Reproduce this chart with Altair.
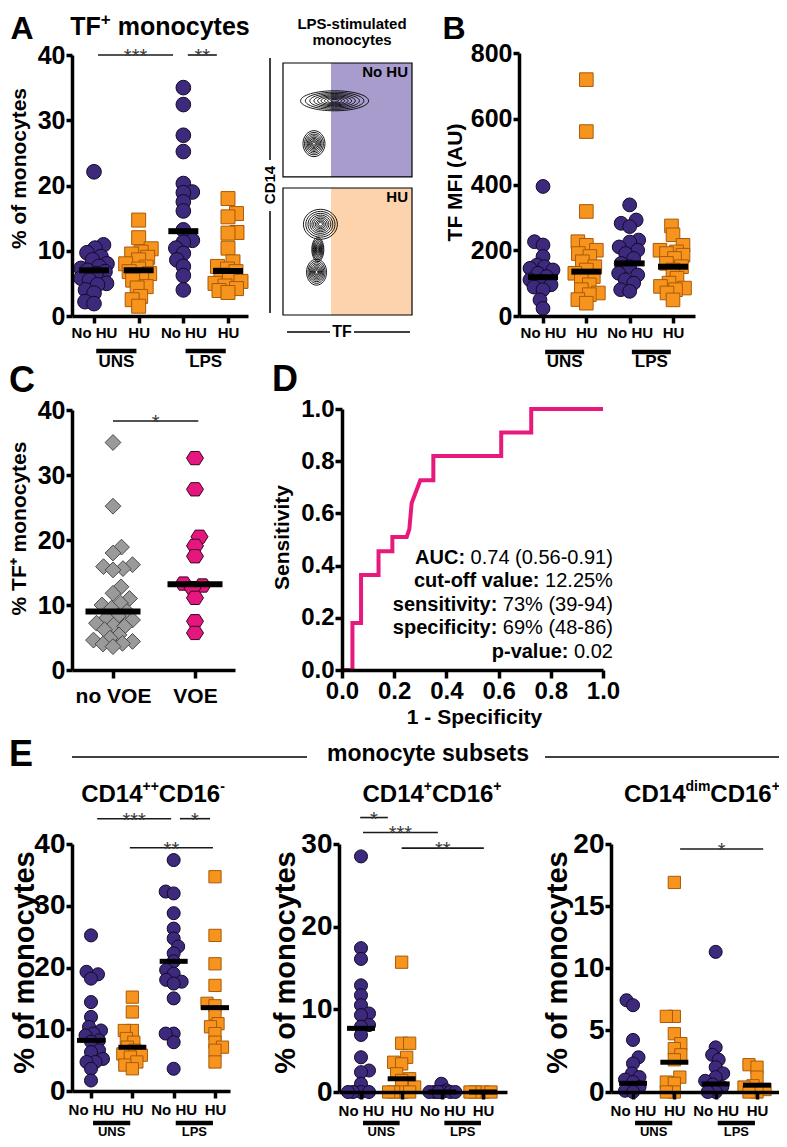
import altair as alt
import pandas as pd

W, H = 771, 1131
M = 8


def P(v):
    return v - M


FONT = "Liberation Sans"

# ---------------- values ----------------
GROUP_LABELS = ["No HU", "HU", "No HU", "HU"]
STIM_LABELS = ["UNS", "LPS"]
VOE_LABELS = ["no VOE", "VOE"]

# A: TF+ monocytes (% of monocytes)
a_uns_nohu = [22.1, 10.9, 10.4, 9.7, 9.1, 8.6, 8.0, 7.6, 7.3, 7.0, 6.8, 6.5, 5.8, 5.5, 5.0, 4.8, 4.0, 3.5, 2.2, 1.9]
a_uns_hu = [14.7, 12.0, 10.3, 9.8, 9.5, 9.0, 8.6, 8.0, 7.5, 7.2, 6.8, 6.5, 5.8, 5.5, 4.5, 4.3, 3.0, 2.5, 1.5]
a_lps_nohu = [35.0, 32.4, 27.7, 25.2, 20.3, 19.0, 18.9, 17.5, 16.1, 13.2, 11.6, 11.3, 10.4, 9.6, 8.6, 7.6, 6.2, 4.0]
a_lps_hu = [18.0, 15.7, 15.2, 12.8, 12.7, 10.4, 8.3, 7.6, 7.2, 6.8, 6.3, 5.8, 5.3, 5.0, 4.6, 4.2, 3.9, 3.6]
a_medians = [7.0, 7.0, 13.0, 6.9]
a_sig = [(0.09, 1.77, 40.0, "***"), (2.1, 2.75, 40.0, "**")]

# B: TF MFI (AU)
b_uns_nohu = [394, 226, 216, 181, 155, 150, 145, 140, 130, 120, 110, 100, 95, 88, 80, 49, 23]
b_uns_hu = [719, 561, 318, 226, 215, 200, 190, 181, 165, 150, 140, 130, 120, 110, 95, 80, 70, 65, 50, 39]
b_lps_nohu = [338, 292, 282, 272, 231, 225, 210, 200, 190, 175, 160, 150, 130, 125, 110, 100, 80, 75]
b_lps_hu = [274, 247, 215, 200, 195, 190, 185, 175, 160, 150, 140, 115, 100, 90, 85, 80, 70, 49]
b_medians = [118, 135, 160, 150]

# C: % TF+ monocytes by VOE
c_novoe = [35.0, 25.2, 18.9, 18.0, 16.2, 15.9, 15.6, 15.4, 12.8, 11.8, 11.0, 10.3, 10.0, 9.5, 9.0,
           8.3, 8.0, 7.7, 7.2, 6.9, 6.7, 6.2, 5.4, 4.9, 4.6, 4.4, 4.1, 4.0, 3.6]
c_voe = [32.6, 27.8, 20.5, 19.1, 17.5, 13.3, 13.0, 12.6, 11.1, 7.5, 5.7]
c_medians = [9.0, 13.2]
c_sig = [(0.0, 1.04, 38.3, "*")]

# D: ROC curve
roc_fpr = [0.0, 0.04, 0.04, 0.073, 0.073, 0.14, 0.14, 0.193, 0.193, 0.248, 0.258, 0.267, 0.30, 0.35, 0.35,
           0.61, 0.61, 0.725, 0.725, 1.0]
roc_tpr = [0.0, 0.0, 0.18, 0.18, 0.364, 0.364, 0.455, 0.455, 0.51, 0.51, 0.54, 0.64, 0.727, 0.727, 0.82,
           0.82, 0.91, 0.91, 1.0, 1.0]
d_labels = ["AUC:", "cut-off value:", "sensitivity:", "specificity:", "p-value:"]
d_values = ["0.74 (0.56-0.91)", "12.25%", "73% (39-94)", "69% (48-86)", "0.02"]
d_text_y = [0.43, 0.34, 0.25, 0.16, 0.068]

# E: monocyte subsets
e1_uns_nohu = [25.2, 19.3, 18.9, 18.2, 14.4, 12.0, 10.4, 9.8, 9.3, 9.0, 8.2, 8.0, 6.6, 6.3, 5.2, 4.7, 4.7, 3.6, 1.7]
e1_uns_hu = [15.2, 12.8, 9.8, 9.8, 8.5, 7.9, 7.1, 6.6, 6.0, 5.8, 5.5, 4.7, 4.2, 3.6]
e1_lps_nohu = [37.4, 32.3, 32.0, 28.8, 26.3, 24.7, 23.4, 22.3, 21.0, 19.6, 19.0, 18.0, 17.7, 17.4, 15.0, 9.3, 9.3, 7.9, 3.6]
e1_lps_hu = [34.7, 25.2, 20.6, 17.1, 14.2, 13.8, 12.5, 10.9, 10.4, 9.3, 7.9, 7.1, 6.6, 4.7]
e1_medians = [8.2, 7.1, 21.0, 13.5]
e1_sig = [(0.15, 1.94, 44.1, "***"), (2.15, 2.88, 44.1, "*"), (0.94, 2.95, 39.4, "**")]

e2_uns_nohu = [28.5, 17.4, 16.1, 12.9, 11.7, 10.5, 9.5, 9.3, 8.1, 7.9, 6.9, 4.2, 2.6, 2.4, 1.0, 0, 0, 0, 0]
e2_uns_hu = [15.7, 5.9, 5.9, 4.2, 3.6, 3.4, 2.2, 1.6, 1.4, 0.6, 0, 0, 0, 0]
e2_lps_nohu = [1.0, 0.2, 0, 0, 0, 0, 0, 0]
e2_lps_hu = [0, 0, 0, 0]
e2_medians = [7.7, 1.6, 0.0, 0.0]
e2_sig = [(-0.02, 0.66, 33.2, "*"), (0.05, 1.89, 31.4, "***"), (1.0, 3.02, 29.5, "**")]

e3_uns_nohu = [7.4, 7.0, 4.2, 2.8, 2.3, 1.5, 1.2, 1.0, 0.8, 0.4, 0.1, 0]
e3_uns_hu = [16.9, 6.1, 6.1, 4.7, 3.9, 3.5, 3.0, 2.6, 1.2, 0.8, 0.7, 0, 0]
e3_lps_nohu = [11.3, 3.6, 3.0, 2.6, 2.0, 1.5, 1.2, 0.9, 0.6, 0.4, 0, 0]
e3_lps_hu = [2.2, 2.0, 1.2, 0.5, 0.4, 0.2, 0, 0]
e3_medians = [0.7, 2.4, 0.65, 0.55]
e3_sig = [(1.14, 3.15, 19.6, "*")]

# flow cytometry sketch (normalised axes of the two dot-plots)
flow_gate = 0.372
flow_top_box = [0.548, 1.0]
flow_bot_box = [0.0, 0.504]
flow_cx = [0.40, 0.24, 0.29, 0.26, 0.27]
flow_cy = [0.85, 0.68, 0.36, 0.17, 0.26]
flow_rx = [34, 11, 17, 10, 6]
flow_ry = [10, 13, 15, 13, 12]

# ---------------- styles ----------------
HEX = "M-1,0L-0.5,-0.78L0.5,-0.78L1,0L0.5,0.78L-0.5,0.78Z"
KIND = {
    "circle": dict(shape="circle", fill="#3D2A7D", stroke="#120A2A"),
    "square": dict(shape="square", fill="#F7941D", stroke="#A85A08"),
    "diamond": dict(shape="diamond", fill="#9A9A9A", stroke="#4A4A4A"),
    "hex": dict(shape=HEX, fill="#E5177E", stroke="#3A0520"),
}
BOLD_W = {'T': .611, 'F': .611, ' ': .278, 'm': .889, 'o': .611, 'n': .611, 'c': .556, 'y': .556,
          't': .333, 'e': .556, 's': .556, 'C': .722, 'D': .722, '1': .556, '4': .556, '6': .556,
          '+': .584, '-': .333, 'd': .611, 'i': .278}
REG_W = {'.': .278, ' ': .278, '(': .333, ')': .333, '-': .333, '%': .889}
for ch in "0123456789":
    REG_W[ch] = .556


def wbold(s, size):
    return sum(BOLD_W.get(c, .6) for c in s) * size


def wreg(s, size):
    return sum(REG_W.get(c, .55) for c in s) * size


def swarm(vals, ypp, xpp, gap, limit):
    idx = sorted(range(len(vals)), key=lambda i: (vals[i], i))
    placed, res, side = [], [0.0] * len(vals), 1
    for i in idx:
        y = vals[i] * ypp
        cands = [0.0]
        s = 0.5
        while s <= limit:
            cands += [side * s, -side * s]
            s += 0.5
        chosen, best, bestd = None, 0.0, -1.0
        for c in cands:
            d = min([((c - a) ** 2 + (y - b) ** 2) ** 0.5 for a, b in placed] or [1e9])
            if d >= gap:
                chosen = c
                break
            if d > bestd:
                bestd, best = d, c
        if chosen is None:
            chosen = best
        placed.append((chosen, y))
        res[i] = chosen / xpp
        side = -side
    return res


AX_STYLE = dict(grid=False, domainColor='black', domainWidth=3.5, tickColor='black', tickWidth=3.5,
                labelFont=FONT, labelFontWeight='bold', labelColor='black', labelOverlap=False,
                labelFlush=False, zindex=1)


def scatter_panel(groups, medians, sig, L, xlabels, stim=True):
    n = len(groups)
    xpp = (L['g_last'] - L['g_first']) / (n - 1)
    xs = alt.Scale(domain=[(L['ax'] - L['g_first']) / xpp, (L['ax_end'] - L['g_first']) / xpp],
                   range=[P(L['ax']), P(L['ax_end'])], nice=False, zero=False)
    ypp = (L['ay'] - L['ytop']) / L['ymax']
    ys = alt.Scale(domain=[0, L['ymax']], range=[P(L['ay']), P(L['ytop'])], nice=False, zero=False)
    xaxis = alt.Axis(orient='bottom', offset=P(L['ay']) - H, values=list(range(n)),
                     labelExpr=f"{xlabels}[datum.value]", tickSize=L.get('xtick', 7),
                     labelFontSize=L['xlab_font'], labelPadding=L['xlab_pad'], title="", **AX_STYLE)
    yaxis = alt.Axis(orient='left', offset=-P(L['ax']), values=L['yticks'], format='d', tickSize=6,
                     labelFontSize=L['tick_font'], labelPadding=1,
                     title=L['ylab'], titleFont=FONT, titleFontSize=L['ylab_font'], titleFontWeight='bold',
                     titleColor='black', titleAngle=270, titleAlign='center', titleBaseline='middle',
                     titleX=L['ylab_x'] - L['ax'], titleY=P(L['ylab_y']), **AX_STYLE)
    rows = []
    for gi, (vals, kind) in enumerate(groups):
        lim = L['limit'][gi] if isinstance(L['limit'], list) else L['limit']
        for v, o in zip(vals, swarm(vals, ypp, xpp, L['gap'], lim)):
            rows.append({'x': gi + o, 'v': v, 'kind': kind})
    df = pd.DataFrame(rows)
    layers = []
    first = True
    for kind in dict.fromkeys(k for _, k in groups):
        st = KIND[kind]
        sub = df[df.kind == kind]
        layers.append(
            alt.Chart(sub).mark_point(filled=True, shape=st['shape'], fill=st['fill'], stroke=st['stroke'],
                                      strokeWidth=1, size=L['size'][kind], opacity=1).encode(
                x=alt.X('x:Q', scale=xs, axis=xaxis if first else None),
                y=alt.Y('v:Q', scale=ys, axis=yaxis if first else None)))
        first = False
    dfm = pd.DataFrame({'x': list(range(n)), 'm': medians})
    layers.append(alt.Chart(dfm).mark_tick(orient='horizontal', size=L['med_len'], thickness=L['med_th'],
                                           color='black', opacity=1).encode(
        x=alt.X('x:Q', scale=xs, axis=None), y=alt.Y('m:Q', scale=ys, axis=None)))
    if sig:
        dfs = pd.DataFrame(sig, columns=['x0', 'x1', 'y', 'lab'])
        dfs['xm'] = (dfs.x0 + dfs.x1) / 2
        layers.append(alt.Chart(dfs).mark_rule(color='#1a1a1a', strokeWidth=1.6).encode(
            x=alt.X('x0:Q', scale=xs, axis=None), x2='x1:Q', y=alt.Y('y:Q', scale=ys, axis=None)))
        layers.append(alt.Chart(dfs).mark_text(font=FONT, fontSize=20, color='#3a3a3a', baseline='alphabetic',
                                               dy=8).encode(
            x=alt.X('xm:Q', scale=xs, axis=None), y=alt.Y('y:Q', scale=ys, axis=None), text='lab:N'))
    if stim:
        dst = pd.DataFrame({'x0': [0.05, 2.05], 'x1': [0.95, 2.95], 'xc': [0.5, 2.5], 't': STIM_LABELS})
        layers.append(alt.Chart(dst).mark_rule(color='black', strokeWidth=4.5).encode(
            x=alt.X('x0:Q', scale=xs, axis=None), x2='x1:Q', y=alt.value(P(L['bar_y']))))
        layers.append(alt.Chart(dst).mark_text(font=FONT, fontSize=L.get('stim_font', 17), fontWeight='bold',
                                               color='black', baseline='middle').encode(
            x=alt.X('xc:Q', scale=xs, axis=None), y=alt.value(P(L['stim_y'])), text='t:N'))
    return layers


def ptext(t, x, y, size, weight='bold', align='center', baseline='middle', angle=0, color='black'):
    kw = dict(font=FONT, fontSize=size, fontWeight=weight, align=align, baseline=baseline, color=color)
    if angle:
        kw['angle'] = angle
    return alt.Chart(pd.DataFrame({'t': [t]})).mark_text(**kw).encode(
        x=alt.value(P(x)), y=alt.value(P(y)), text='t:N')


def prule(x0, x1, y0, y1, w=1.5):
    return alt.Chart(pd.DataFrame({'k': [0]})).mark_rule(color='black', strokeWidth=w).encode(
        x=alt.value(P(x0)), x2=alt.value(P(x1)), y=alt.value(P(y0)), y2=alt.value(P(y1)))


def comp_text(parts, cx, y, size, sup_size, rise):
    widths = [wbold(s, sup_size if sup else size) for s, sup in parts]
    x = cx - sum(widths) / 2
    out = []
    for (s, sup), w in zip(parts, widths):
        out.append(ptext(s.strip(), x + (wbold(' ', size) if s.startswith(' ') else 0),
                         y - rise if sup else y, sup_size if sup else size, align='left'))
        x += w
    return out


# ---------------- panel layouts ----------------
base_size = {'circle': 215, 'square': 195}
LA = dict(ax=72, ax_end=248, ay=316, ytop=55, ymax=40, yticks=[0, 10, 20, 30, 40], g_first=94, g_last=228,
          tick_font=25, xlab_font=15, xlab_pad=2, ylab='% of monocytes', ylab_x=19, ylab_y=168, ylab_font=21,
          size=base_size, gap=9, limit=13, med_len=30, med_th=6, bar_y=351, stim_y=362)
LB = dict(LA, ax=519, ax_end=695, ytop=53, ymax=800, yticks=[0, 200, 400, 600, 800], g_first=543, g_last=673,
          ylab='TF MFI (AU)', ylab_x=455, ylab_y=182, size={'circle': 190, 'square': 185}, bar_y=352)
LC = dict(LA, ax=72, ax_end=235, ay=670, ytop=410, g_first=113, g_last=195, xlab_font=21, xlab_pad=7, xtick=8,
          ylab='% TF⁺ monocytes', ylab_y=528, size={'diamond': 250, 'hex': 290}, gap=10, limit=[25, 18],
          med_len=55)
e_size = {'circle': 170, 'square': 150}
LE1 = dict(ax=72, ax_end=230, ay=1091, ytop=844, ymax=40, yticks=[0, 10, 20, 30, 40], g_first=91, g_last=215,
           tick_font=28, xlab_font=15, xlab_pad=4, ylab='% of monocytes', ylab_x=24, ylab_y=962, ylab_font=29,
           size=e_size, gap=8, limit=13, med_len=28, med_th=5, bar_y=1123, stim_y=1132, stim_font=13)
LE2 = dict(LE1, ax=339, ax_end=507, ay=1092, ymax=30, yticks=[0, 10, 20, 30], g_first=361, g_last=483,
           ylab_x=285)
LE3 = dict(LE1, ax=611, ax_end=779, ay=1092, ymax=20, yticks=[0, 5, 10, 15, 20], g_first=633, g_last=757,
           ylab_x=557)

panelA = scatter_panel([(a_uns_nohu, 'circle'), (a_uns_hu, 'square'), (a_lps_nohu, 'circle'), (a_lps_hu, 'square')],
                       a_medians, a_sig, LA, GROUP_LABELS)
panelB = scatter_panel([(b_uns_nohu, 'circle'), (b_uns_hu, 'square'), (b_lps_nohu, 'circle'), (b_lps_hu, 'square')],
                       b_medians, [], LB, GROUP_LABELS)
panelC = scatter_panel([(c_novoe, 'diamond'), (c_voe, 'hex')], c_medians, c_sig, LC, VOE_LABELS, stim=False)
panelE1 = scatter_panel([(e1_uns_nohu, 'circle'), (e1_uns_hu, 'square'), (e1_lps_nohu, 'circle'),
                         (e1_lps_hu, 'square')], e1_medians, e1_sig, LE1, GROUP_LABELS)
panelE2 = scatter_panel([(e2_uns_nohu, 'circle'), (e2_uns_hu, 'square'), (e2_lps_nohu, 'circle'),
                         (e2_lps_hu, 'square')], e2_medians, e2_sig, LE2, GROUP_LABELS)
panelE3 = scatter_panel([(e3_uns_nohu, 'circle'), (e3_uns_hu, 'square'), (e3_lps_nohu, 'circle'),
                         (e3_lps_hu, 'square')], e3_medians, e3_sig, LE3, GROUP_LABELS)

# ---------------- panel D (ROC) ----------------
D_AX, D_END, D_AY, D_TOP = 342, 603, 670, 409
xsD = alt.Scale(domain=[0, 1], range=[P(D_AX), P(D_END)], nice=False, zero=False)
ysD = alt.Scale(domain=[0, 1], range=[P(D_AY), P(D_TOP)], nice=False, zero=False)
dticks = [0, 0.2, 0.4, 0.6, 0.8, 1.0]
common_ax = dict(labelFontSize=24, format='.1f', values=dticks,
                 titleFont=FONT, titleFontSize=21, titleFontWeight='bold', titleColor='black',
                 titleAlign='center', titleBaseline='middle', **AX_STYLE)
dx_axis = alt.Axis(orient='bottom', offset=P(D_AY) - H, tickSize=8, labelPadding=1,
                   title='1 - Specificity', titleX=P(474), titleY=47, **common_ax)
dy_axis = alt.Axis(orient='left', offset=-P(D_AX), tickSize=7, labelPadding=1,
                   title='Sensitivity', titleAngle=270, titleX=282 - D_AX, titleY=P(537), **common_ax)
roc_df = pd.DataFrame({'f': roc_fpr, 't': roc_tpr, 'i': list(range(len(roc_fpr)))})
roc_line = alt.Chart(roc_df).mark_line(color='#E8197D', strokeWidth=4, strokeJoin='miter').encode(
    x=alt.X('f:Q', scale=xsD, axis=dx_axis), y=alt.Y('t:Q', scale=ysD, axis=dy_axis), order='i:Q')
D_FS = 20
xppD = (D_END - D_AX)
d_right = 1.038
d_df = pd.DataFrame({'lab': d_labels, 'val': d_values, 'y': d_text_y})
d_df['xv'] = d_right
d_df['xl'] = [d_right - (wreg(v, D_FS) + wreg(' ', D_FS)) / xppD for v in d_values]
d_vals = alt.Chart(d_df).mark_text(font=FONT, fontSize=D_FS, align='right', baseline='middle', color='black').encode(
    x=alt.X('xv:Q', scale=xsD, axis=None), y=alt.Y('y:Q', scale=ysD, axis=None), text='val:N')
d_labs = alt.Chart(d_df).mark_text(font=FONT, fontSize=D_FS, fontWeight='bold', align='right', baseline='middle',
                                   color='black').encode(
    x=alt.X('xl:Q', scale=xsD, axis=None), y=alt.Y('y:Q', scale=ysD, axis=None), text='lab:N')
panelD = [roc_line, d_vals, d_labs]

# ---------------- flow cytometry sketch ----------------
xsF = alt.Scale(domain=[0, 1], range=[P(283), P(412)], nice=False, zero=False)
ysF = alt.Scale(domain=[0, 1], range=[P(315), P(63)], nice=False, zero=False)
boxes = pd.DataFrame({'x0': [0.0, 0.0], 'x1': [1.0, 1.0],
                      'y0': [flow_top_box[0], flow_bot_box[0]], 'y1': [flow_top_box[1], flow_bot_box[1]]})
panelFlow = []
for (y0, y1), col in [(flow_top_box, '#A79CCB'), (flow_bot_box, '#FDD3AD')]:
    g = pd.DataFrame({'x0': [flow_gate], 'x1': [1.0], 'y0': [y0], 'y1': [y1]})
    panelFlow.append(alt.Chart(g).mark_rect(color=col, opacity=1).encode(
        x=alt.X('x0:Q', scale=xsF, axis=None), x2='x1:Q', y=alt.Y('y0:Q', scale=ysF, axis=None), y2='y1:Q'))
panelFlow.append(alt.Chart(boxes).mark_rect(fillOpacity=0, stroke='black', strokeWidth=1.2).encode(
    x=alt.X('x0:Q', scale=xsF, axis=None), x2='x1:Q', y=alt.Y('y0:Q', scale=ysF, axis=None), y2='y1:Q'))
ring_frac = [1.0, 0.86, 0.73, 0.61, 0.5, 0.4, 0.3, 0.21, 0.12]
for cx, cy, rx, ry in zip(flow_cx, flow_cy, flow_rx, flow_ry):
    if rx >= ry:
        path = f"M-1,0A1,{ry / rx:.3f},0,1,0,1,0A1,{ry / rx:.3f},0,1,0,-1,0Z"
        r = rx
    else:
        path = f"M0,-1A{rx / ry:.3f},1,0,1,0,0,1A{rx / ry:.3f},1,0,1,0,0,-1Z"
        r = ry
    rd = pd.DataFrame({'x': [cx] * len(ring_frac), 'y': [cy] * len(ring_frac),
                       's': [4 * (r * f) ** 2 for f in ring_frac]})
    panelFlow.append(alt.Chart(rd).mark_point(shape=path, filled=False, color='black', strokeWidth=0.9,
                                              opacity=1).encode(
        x=alt.X('x:Q', scale=xsF, axis=None), y=alt.Y('y:Q', scale=ysF, axis=None),
        size=alt.Size('s:Q', scale=None)))

# ---------------- page-level text ----------------
page = [
    ptext("A", 22, 29, 32), ptext("B", 454, 29, 32), ptext("C", 22, 381, 36), ptext("D", 285, 380, 36),
    ptext("E", 21, 755, 36),
    ptext("LPS-stimulated", 352, 24, 15), ptext("monocytes", 352, 40, 15),
    ptext("No HU", 408, 72, 15, align='right'), ptext("HU", 408, 197, 15, align='right'),
    ptext("CD14", 270, 185, 15, angle=270), ptext("TF", 342, 332, 16),
    prule(270, 270, 58, 160), prule(270, 270, 211, 313), prule(287, 330, 332, 332), prule(354, 410, 332, 332),
    ptext("monocyte subsets", 428, 754, 23), prule(72, 307, 757, 757), prule(545, 781, 757, 757),
]
page += comp_text([("TF", False), ("+", True), (" monocytes", False)], 160, 27, 25, 17, 7)
page += comp_text([("CD14", False), ("++", True), ("CD16", False), ("-", True)], 153, 795, 24, 14, 8)
page += comp_text([("CD14", False), ("+", True), ("CD16", False), ("+", True)], 432, 795, 24, 14, 8)
page += comp_text([("CD14", False), ("dim", True), ("CD16", False), ("+", True)], 702, 795, 24, 14, 8)

all_layers = panelFlow + panelA + panelB + panelC + panelD + panelE1 + panelE2 + panelE3 + page
chart = alt.layer(*all_layers).resolve_scale(
    x='independent', y='independent').resolve_axis(x='independent', y='independent').properties(
    width=W, height=H, autosize=alt.AutoSizeParams(type='none'), padding=0
).configure_view(stroke=None)

chart.save("out.html", embed_options={"renderer": "svg", "actions": False})
